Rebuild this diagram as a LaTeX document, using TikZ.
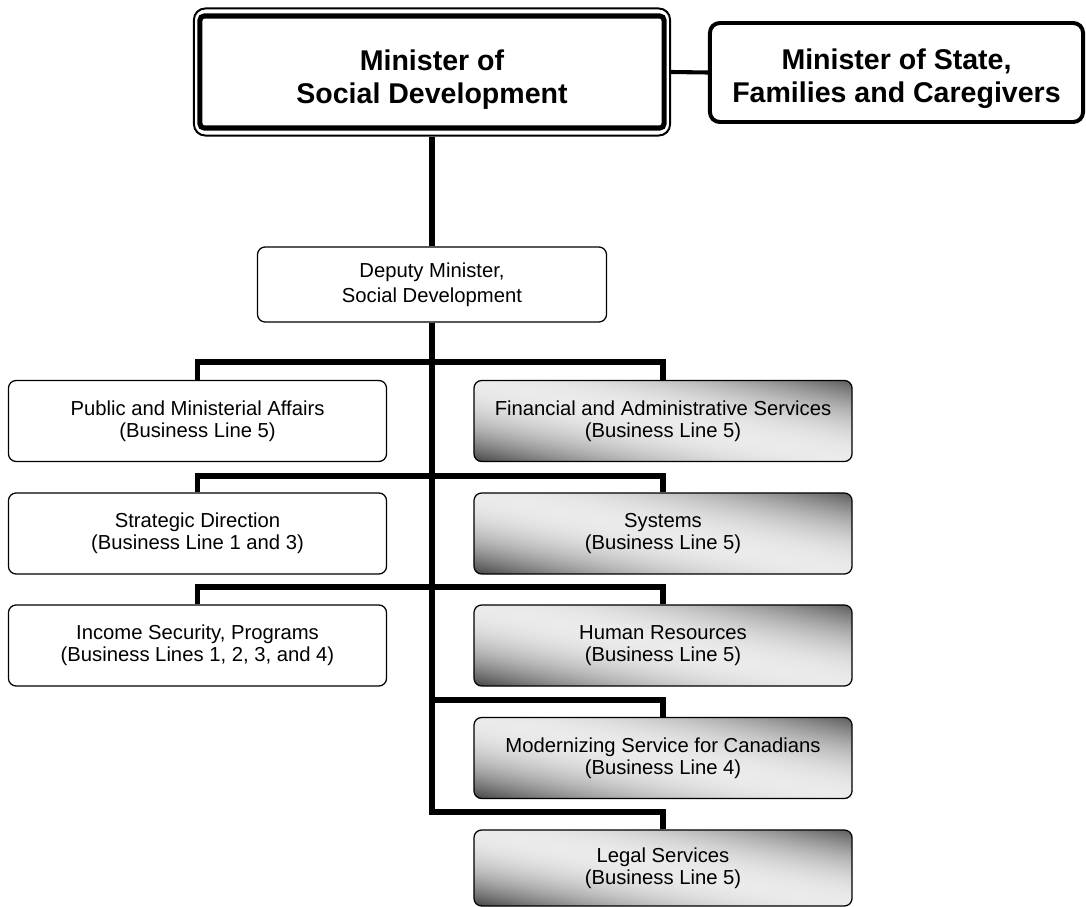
\documentclass[tikz,border=0pt]{standalone}
\usepackage{fontspec}
\setmainfont{Liberation Sans}
\usepackage{tikz}

\pgfdeclarefunctionalshading{unitgrey}{\pgfpointorigin}{\pgfpoint{100bp}{100bp}}{}{
  add 50 sub 100 div 0.5 sub
  dup dup mul
  exch 0 lt {2.64} {2.24} ifelse
  mul 0.92 exch sub
  dup 0 lt {pop 0} if
  dup dup
}

\tikzset{
  orgbox/.style={draw, line width=0.9pt, rounded corners=5.5pt, align=center, inner sep=2pt,
    minimum width=9.45cm, minimum height=2.025cm, font=\fontsize{14.4}{15.8}\selectfont},
  whitebox/.style={orgbox, fill=white},
  greybox/.style={orgbox, shade, shading=unitgrey},
  link/.style={line width=3.6pt}
}

\begin{document}
\begin{tikzpicture}[x=0.025cm, y=-0.025cm]
  \useasboundingbox (0,0) rectangle (1086,907);

  \node[draw, line width=1.4pt, rounded corners=8pt, minimum width=11.9cm, minimum height=3.175cm] (mf) at (432,72) {};
  \node[draw, line width=3.6pt, rounded corners=3pt, minimum width=11.6cm, minimum height=2.8cm, align=center,
        font=\fontsize{20.3}{23.5}\selectfont\bfseries] (m) at (432,72) {\rule{0pt}{25pt}Minister of\\Social Development};
  \node[draw, line width=2.8pt, rounded corners=7pt, minimum width=9.325cm, minimum height=2.475cm, align=center,
        font=\fontsize{20.3}{23.5}\selectfont\bfseries] (s) at (896.5,72.5) {\rule{0pt}{24pt}Minister of State,\\Families and Caregivers};

  \node[whitebox, minimum width=8.725cm, minimum height=1.875cm, font=\fontsize{14.4}{17.5}\selectfont] (d) at (432,284.5) {Deputy Minister,\\Social Development};

  \node[whitebox] (l1) at (197.5,421) {Public and Ministerial Affairs\\(Business Line 5)};
  \node[whitebox] (l2) at (197.5,533.5) {Strategic Direction\\(Business Line 1 and 3)};
  \node[whitebox] (l3) at (197.5,645.5) {Income Security, Programs\\(Business Lines 1, 2, 3, and 4)};

  \node[greybox] (r1) at (663,421) {Financial and Administrative Services\\(Business Line 5)};
  \node[greybox] (r2) at (663,533.5) {Systems\\(Business Line 5)};
  \node[greybox] (r3) at (663,645.5) {Human Resources\\(Business Line 5)};
  \node[greybox] (r4) at (663,758) {Modernizing Service for Canadians\\(Business Line 4)};
  \node[greybox, minimum height=1.9cm] (r5) at (663,868) {Legal Services\\(Business Line 5)};

  \coordinate (j1) at (432,362);
  \coordinate (j2) at (432,476);
  \coordinate (j3) at (432,587);
  \coordinate (j4) at (432,700);
  \coordinate (j5) at (432,812);

  \draw[line width=2.9pt] (mf.east) -- (s.west);
  \draw[link] (mf.south) -- (d.north);
  \draw[link] (d.south) -- (j5) -| (r5.north);
  \draw[link] (l1.north) |- (j1) -| (r1.north);
  \draw[link] (l2.north) |- (j2) -| (r2.north);
  \draw[link] (l3.north) |- (j3) -| (r3.north);
  \draw[link] (j4) -| (r4.north);
\end{tikzpicture}
\end{document}
